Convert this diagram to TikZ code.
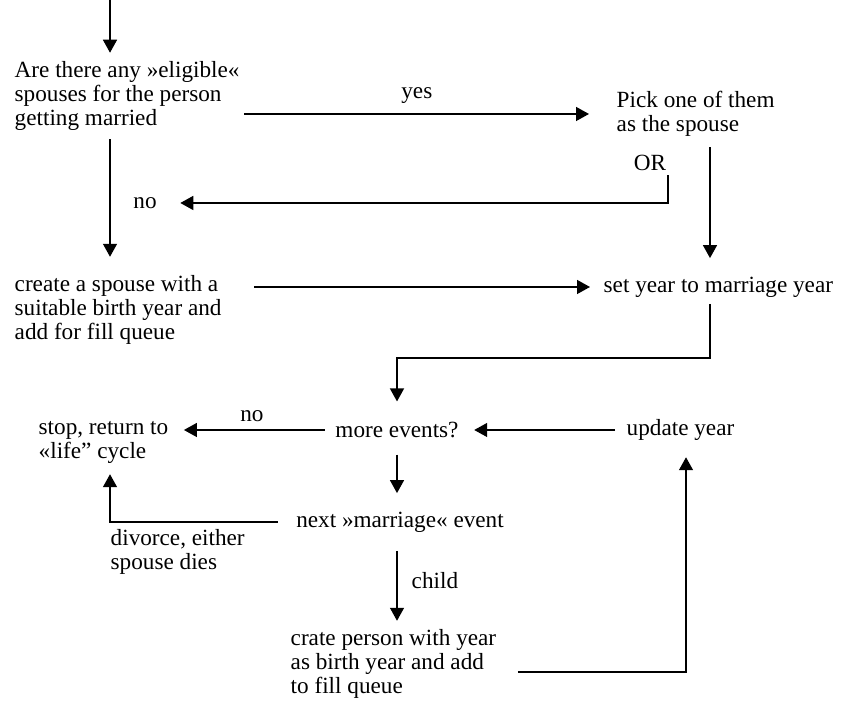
\documentclass[tikz,border=0pt]{standalone}
\usepackage{fontspec}
\setmainfont{Liberation Serif}
\usetikzlibrary{arrows.meta,positioning,calc}

\begin{document}
\begin{tikzpicture}[x=0.5pt,y=0.5pt,>={Triangle[length=6.5pt,width=7pt]},line width=0.7pt,
    txt/.style={align=left,inner sep=0pt,anchor=west,font=\fontsize{11.6}{12}\selectfont},
    lbl/.style={inner sep=0pt,font=\fontsize{11.6}{12}\selectfont}]
    \useasboundingbox (0,0) rectangle (844,704);

    % text blocks
    \node[txt] (elig) at (14,608) {Are there any »eligible«\\spouses for the person\\getting married};
    \node[txt] (pick) at (616,590) {Pick one of them\\as the spouse};
    \node[lbl] (or) at (650,541) {OR};
    \node[lbl] (nospouse) at (145,501) {no};
    \node[txt] (create) at (14,394) {create a spouse with a\\suitable birth year and\\add for fill queue};
    \node[txt] (setyear) at (603,417) {set year to marriage year};
    \node[lbl] (more) at (397,274) {more events?};
    \node[txt] (stop) at (38,261.5) {stop, return to\\«life” cycle};
    \node[txt] (update) at (626,274) {update year};
    \node[lbl] (nextev) at (400,182) {next »marriage« event};
    \node[txt] (divorce) at (110,152) {divorce, either\\spouse dies};
    \node[txt] (crate) at (290,40) {crate person with year\\as birth year and add\\to fill queue};

    % bends
    \coordinate (start) at (110,704);
    \coordinate (orbend) at (668,501);
    \coordinate (rline) at (710,346);
    \coordinate (lbend) at (110,182);
    \coordinate (rbend) at (686,32);

    % connectors
    \draw[->,shorten >=4pt] (start) -- (start |- elig.north);
    \draw[->,shorten <=2pt,shorten >=13.5pt] (elig.east |- pick.west) -- (pick.west)
      node[pos=0.47,above=5pt,lbl] {yes};
    \draw[->,shorten <=2pt,shorten >=11.5pt] (or.south -| orbend) -- (orbend) -- (nospouse.east);
    \draw[->,shorten <=4pt,shorten >=9pt] (elig.south -| start) -- (create.north -| start);
    \draw[->,shorten <=5pt,shorten >=9pt] (pick.south -| rline) -- (setyear.north -| rline);
    \draw[->,shorten <=16pt,shorten >=6.5pt] (create.east |- setyear.west) -- (setyear.west);
    \draw[->,shorten <=3pt,shorten >=10pt] (setyear.south -| rline) -- (rline) -- (rline -| more.north) -- (more.north);
    \draw[->,shorten <=5pt,shorten >=7.5pt] (more.west) -- (more.west -| stop.east)
      node[midway,above=4pt,lbl] {no};
    \draw[->,shorten <=5.5pt,shorten >=7.5pt] (update.west) -- (more.east);
    \draw[->,shorten <=8pt,shorten >=9pt] (more.south) -- (nextev.north -| more.south);
    \draw[->,shorten <=9pt,shorten >=5pt] (nextev.west) -- (lbend) -- (stop.south -| lbend);
    \draw[->,shorten <=9pt,shorten >=4pt] (nextev.south -| more.south) -- (crate.north -| more.south)
      node[midway,right=7pt,lbl] {child};
    \draw[->,shorten <=10.5pt,shorten >=8pt] (crate.east |- rbend) -- (rbend) -- (update.south -| rbend);
  \end{tikzpicture}
\end{document}
